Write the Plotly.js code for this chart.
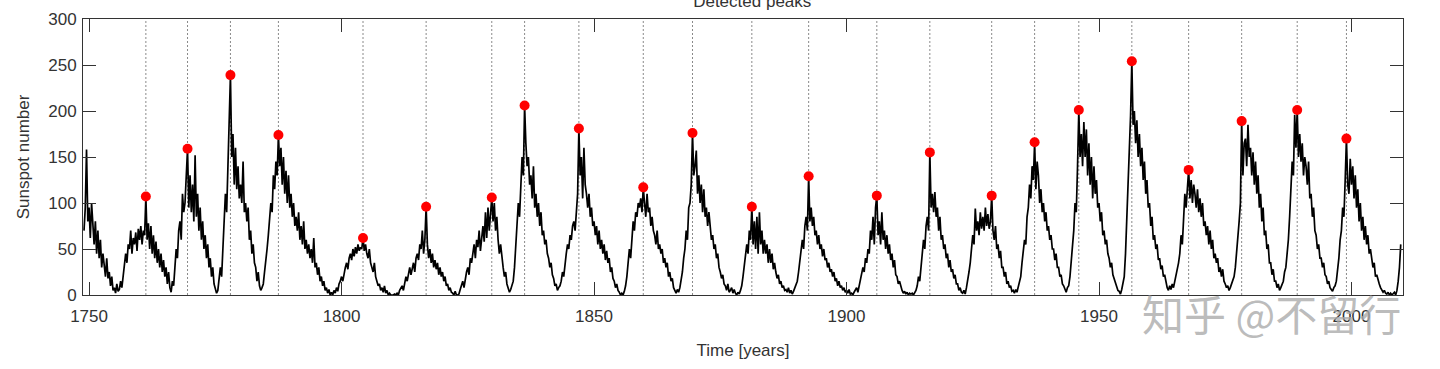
<!DOCTYPE html>
<html>
<head>
<meta charset="utf-8">
<script src="https://cdn.plot.ly/plotly-3.0.1.min.js"></script>
<style>html,body{margin:0;padding:0;background:#fff;}#chart{width:1440px;height:369px;}</style>
</head>
<body>
<div id="chart"></div>
<script>
// Sunspot number, four samples per year starting 1749.0
const ssn1749 = [
 70,95,158,80, 95,62,100,75, 55,80,45,70, 40,60,30,45, 35,20,40,18,
 25,10,20,5, 8,2,12,4, 6,15,8,20, 30,45,35,55, 50,70,45,62,
 55,68,48,72, 60,75,55,70, 65,107,60,78, 50,75,45,65, 40,58,35,50,
 30,45,25,38, 20,30,12,25, 8,3,15,10, 30,50,40,70, 80,60,110,90,
 100,140,159,95, 130,90,120,80, 152,85,110,70, 95,60,80,50, 65,40,55,30,
 40,20,30,12, 8,2,5,15, 30,20,55,80, 110,90,140,178, 239,150,175,120,
 160,115,140,105, 120,100,145,90, 100,80,95,60, 70,45,55,35, 30,15,25,10,
 5,8,12,25, 35,50,65,80, 100,90,130,115, 145,130,174,140, 160,120,150,110,
 135,100,130,95, 110,85,100,75, 85,70,90,60, 75,55,80,50, 60,45,55,40,
 50,35,62,30, 35,22,30,15, 20,10,15,5, 8,2,6,0, 3,0,5,2,
 8,4,12,15
];
const ssn1800 = [
 20,15,25,30, 35,28,40,45, 38,50,42,52, 45,55,48,52, 50,62,48,55,
 45,40,50,35, 30,25,35,20, 15,10,12,5, 8,3,10,2, 5,0,2,0,
 0,0,1,0, 2,0,5,8, 10,5,15,20, 15,25,30,22, 28,35,25,40,
 45,38,55,50, 70,45,60,96, 55,40,50,35, 45,30,38,28, 35,22,30,20,
 25,15,20,10, 12,5,8,3, 2,0,4,0, 0,1,6,10, 15,8,20,25,
 30,22,40,35, 45,55,40,60, 52,70,48,65, 75,58,90,62, 95,70,85,106,
 80,100,70,85, 60,45,55,38, 30,20,25,12, 8,3,6,10, 15,30,50,70,
 100,85,120,150, 130,206,165,140, 150,120,130,105, 140,95,110,85, 100,75,90,65,
 70,55,60,45, 40,30,35,22, 18,10,12,5, 8,10,15,25, 20,35,45,55,
 50,65,60,75, 80,70,95,110, 181,130,150,105, 160,120,110,95, 110,85,95,75
];
const ssn1850 = [
 80,65,75,55, 70,50,60,45, 55,38,48,35, 40,25,30,18, 15,8,12,5,
 3,0,2,0, 4,10,20,35, 50,40,65,80, 70,90,85,100, 95,105,90,117,
 100,85,110,90, 95,75,85,70, 65,55,70,50, 55,45,50,35, 40,30,35,20,
 25,15,18,8, 5,2,6,3, 8,15,25,40, 50,70,60,95, 100,120,176,130,
 140,157,110,130, 100,120,90,115, 85,95,75,90, 70,60,65,50, 55,40,45,30,
 25,18,22,12, 10,5,12,3, 5,8,2,6, 2,0,3,1, 5,10,20,30,
 40,55,45,70, 60,96,55,80, 50,85,45,90, 55,70,45,60, 45,55,35,50,
 35,45,28,35, 25,18,22,12, 15,8,10,5, 6,3,8,2, 5,1,4,8,
 10,15,25,35, 45,60,50,75, 85,70,129,80, 95,75,85,65, 70,55,65,50,
 55,42,50,38, 40,30,35,25, 28,20,25,15, 18,10,15,8, 10,5,8,3
];
const ssn1900 = [
 5,2,6,1, 2,0,3,5, 8,3,10,15, 20,30,25,40, 35,50,45,70,
 60,85,55,95, 108,65,80,55, 90,60,70,50, 65,45,55,38, 45,30,38,22,
 20,12,15,8, 5,2,4,1, 3,0,2,1, 2,0,3,5, 10,20,15,35,
 45,60,50,75, 85,70,155,95, 110,90,112,85, 95,70,85,60, 65,50,55,40,
 45,30,38,25, 28,18,22,12, 12,5,8,3, 2,5,1,8, 15,25,35,50,
 65,55,94,70, 80,65,90,72, 85,70,95,75, 88,72,80,108, 70,60,75,50,
 55,40,48,30, 30,20,25,12, 15,8,10,4, 5,2,6,3, 8,15,20,35,
 45,60,55,85, 95,120,105,140, 125,166,115,145, 130,100,115,90, 100,80,90,70,
 75,60,65,50, 50,38,45,30, 30,20,22,12, 10,5,3,8, 10,20,35,55,
 70,100,90,140, 201,150,175,140, 188,150,180,130, 165,120,150,105, 140,110,125,95
];
const ssn1950 = [
 100,80,90,65, 70,55,60,45, 40,30,35,22, 18,12,10,5, 4,1,6,12,
 20,45,80,120, 160,195,254,185, 200,165,190,150, 175,140,160,125, 145,110,125,95,
 100,75,85,60, 65,50,55,38, 40,28,32,20, 22,12,8,5, 10,6,12,8,
 15,20,25,35, 45,65,55,90, 110,95,120,136, 105,125,100,120, 110,95,115,90,
 105,85,100,75, 80,65,75,55, 70,50,60,40, 45,35,40,25, 30,20,28,15,
 12,8,10,5, 8,12,15,20, 30,45,60,80, 100,189,130,165, 170,140,185,150,
 160,130,155,120, 145,110,130,95, 110,80,95,65, 70,50,55,35, 35,22,28,15,
 15,8,12,5, 8,12,15,25, 30,45,60,85, 110,145,130,196, 160,201,150,175,
 145,165,130,150, 140,120,145,105, 110,85,95,70, 65,50,55,40, 40,30,35,22,
 20,12,15,8, 6,4,8,10, 15,25,40,60, 70,95,85,125, 170,120,110,148,
 120,140,105,130, 95,115,80,100, 70,85,60,75, 55,65,45,50, 40,30,35,20,
 22,15,12,8, 6,3,5,2, 1,3,0,2, 0,1,3,0, 5,15,30,55
];
const startYear = 1749;
const samplesPerYear = 4;

// Detected peaks (red dots + dotted vertical lines)
const peakYears = [1761.25, 1769.5, 1778.0, 1787.5, 1804.25, 1816.75, 1829.75, 1836.25,
  1847.0, 1859.75, 1869.5, 1881.25, 1892.5, 1906.0, 1916.5, 1928.75, 1937.25, 1946.0,
  1956.5, 1967.75, 1978.25, 1989.25, 1999.0];
const peakValues = [107, 159, 239, 174, 62, 96, 106, 206, 181, 117, 176, 96, 129, 108,
  155, 108, 166, 201, 254, 136, 189, 201, 170];

const xTicks = [1750, 1800, 1850, 1900, 1950, 2000];
const yTicks = [0, 50, 100, 150, 200, 250, 300];

const ssn = [].concat(ssn1749, ssn1800, ssn1850, ssn1900, ssn1950);
const t = ssn.map((_, i) => startYear + i / samplesPerYear);

const font = 'Liberation Sans, Arial, sans-serif';

const traces = [
  {x: t, y: ssn, type: 'scatter', mode: 'lines',
   line: {color: '#000000', width: 1.7}, hoverinfo: 'skip', showlegend: false},
  {x: peakYears, y: peakValues, type: 'scatter', mode: 'markers',
   marker: {color: '#ff0000', size: 10}, showlegend: false}
];

const shapes = peakYears.map(px => ({
  type: 'line', xref: 'x', yref: 'paper', x0: px, x1: px, y0: 0, y1: 1,
  line: {color: '#8a8a8a', width: 1, dash: '2px,2px'}, layer: 'below'
}));

const axisCommon = {
  showline: true, linecolor: '#333333', linewidth: 1, mirror: 'ticks',
  ticks: 'inside', ticklen: 13, tickwidth: 1, tickcolor: '#333333',
  showgrid: false, zeroline: false,
  tickfont: {family: font, size: 17, color: '#333333'}
};

const layout = {
  width: 1440, height: 369,
  margin: {l: 83, r: 37, t: 19, b: 74},
  paper_bgcolor: '#ffffff', plot_bgcolor: '#ffffff',
  title: {text: 'Detected peaks', font: {family: font, size: 17, color: '#333333'},
          xref: 'paper', x: 0.507, xanchor: 'center', yref: 'container', y: 0.998, yanchor: 'middle'},
  xaxis: Object.assign({}, axisCommon, {
    range: [1748.8, 2010.2], tickvals: xTicks, ticktext: xTicks.map(String),
    ticklabelstandoff: 6,
    title: {text: 'Time [years]', font: {family: font, size: 17, color: '#333333'}, standoff: 18}
  }),
  yaxis: Object.assign({}, axisCommon, {
    range: [0, 300], tickvals: yTicks, ticktext: yTicks.map(String),
    ticklabelstandoff: 2,
    title: {text: 'Sunspot number', font: {family: font, size: 17, color: '#333333'}, standoff: 14}
  }),
  shapes: shapes,
  annotations: [{
    text: '知乎 @不留行', xref: 'paper', yref: 'paper', x: 1.0, y: -0.065,
    xanchor: 'right', yanchor: 'middle', showarrow: false,
    font: {family: 'Noto Sans CJK SC, sans-serif', size: 42, color: 'rgba(170,170,170,0.8)'}
  }]
};

Plotly.newPlot('chart', traces, layout, {displayModeBar: false, staticPlot: true});
</script>
</body>
</html>
